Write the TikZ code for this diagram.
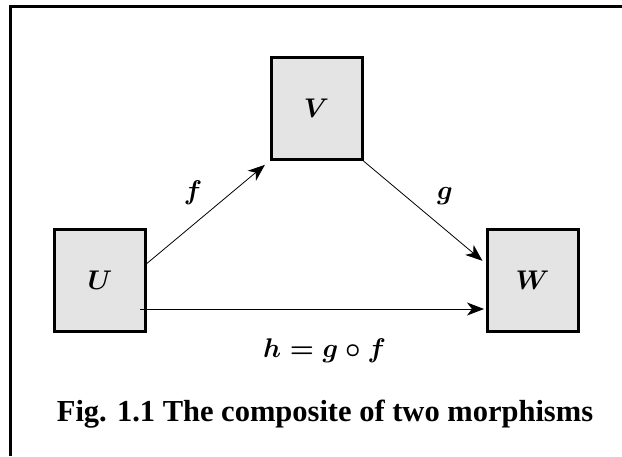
\documentclass[tikz,border=0pt]{standalone}
\usepackage{fontspec}
\setmainfont{Liberation Serif}
\usetikzlibrary{arrows.meta}
\definecolor{boxgray}{RGB}{228,228,228}
\newcommand{\symb}[1]{\scalebox{2.7}{\boldmath$#1$}}

\begin{document}
\begin{tikzpicture}[x=1pt,y=-1pt,>={Stealth[length=17pt,width=13pt,inset=5pt]},line join=miter,
  obj/.style={draw,line width=3pt,fill=boxgray,minimum width=91pt,minimum height=102pt,
    inner sep=0pt},
  lbl/.style={anchor=base},
  arr/.style={->,line width=0.8pt}]
\useasboundingbox (0,0) rectangle (622,456);
\draw[line width=2.7pt] (10.7,456) -- (10.7,6.8) -- (622,6.8);
% the three objects
\node[obj] (U) at (100,280.5) {\symb{U}};
\node[obj] (V) at (316.5,108.5) {\symb{V}};
\node[obj] (W) at (532.5,280.5) {\symb{W}};
% morphisms
\draw[arr,shorten >=6pt] (U.20) -- (V.south west);
\draw[arr,shorten >=4pt] (V.south east) -- (W.160);
\draw[arr,shorten >=1.5pt] ([xshift=-7pt,yshift=-28.5pt]U.east) -- ([yshift=-28.5pt]W.west);
\node[lbl] (lf) at (193,199) {\symb{f}};
\node[lbl] (lg) at (445,199) {\symb{g}};
\node[lbl] (lh) at (324.5,357) {\symb{h = g \circ f}};
\node[anchor=base,font=\fontsize{30.5}{34}\selectfont\bfseries] (cap) at (325,421)
  {Fig. 1.1 The composite of two morphisms};
\end{tikzpicture}
\end{document}
